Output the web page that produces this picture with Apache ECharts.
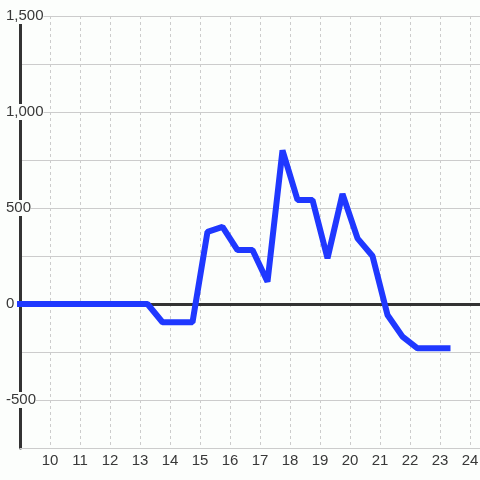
<!DOCTYPE html>
<html>
<head>
<meta charset="utf-8">
<script src="https://cdn.jsdelivr.net/npm/echarts@6/dist/echarts.min.js"></script>
<style>
  html, body { margin: 0; padding: 0; background: #fcfefc; }
  #chart { width: 480px; height: 480px; }
</style>
</head>
<body>
<div id="chart"></div>
<script>
// hours of day (decimal) and values
var hours = [8.9, 13.25, 13.75, 14.75, 15.25, 15.75, 16.25, 16.75, 17.25, 17.75, 18.25, 18.75, 19.25, 19.75, 20.25, 20.75, 21.25, 21.75, 22.25, 23.35];
var values = [0, 0, -95, -95, 376, 402, 281, 281, 116, 800, 542, 542, 238, 573, 342, 250, -57, -170, -231, -231];
var yTicks = [-500, 0, 500, 1000, 1500];

var chart = echarts.init(document.getElementById("chart"));
var labelFont = { fontFamily: "Liberation Sans", fontSize: 15, color: "#383838" };

chart.setOption({
  backgroundColor: "#fcfefc",
  animation: false,
  grid: { left: 20, right: 0, top: 16, bottom: 32, outerBoundsMode: "none" },
  xAxis: {
    type: "value",
    min: 9,
    max: 24.3333,
    interval: 1,
    axisLine: { onZero: false, lineStyle: { color: "#ccc", width: 1 } },
    axisTick: { show: false },
    axisLabel: Object.assign({
      margin: 5,
      showMinLabel: false,
      hideOverlap: false,
      formatter: function (v) { return Number.isInteger(v) && v > 9 ? String(v) : ""; }
    }, labelFont),
    splitLine: { show: true, lineStyle: { color: "#ccc", type: [3, 3] } }
  },
  yAxis: {
    type: "value",
    min: -750,
    max: 1500,
    interval: 250,
    axisLine: { show: true, lineStyle: { color: "#333", width: 3 } },
    axisTick: { show: false },
    axisLabel: Object.assign({
      margin: 14,
      align: "left",
      backgroundColor: "#fcfefc",
      lineHeight: 13,
      padding: [3, 0, 0, 0],
      formatter: function (v) {
        return yTicks.indexOf(v) >= 0 ? v.toLocaleString("en-US") : "";
      }
    }, labelFont),
    splitLine: { show: true, lineStyle: { color: "#ccc", width: 1 } }
  },
  series: [
    {
      type: "line",
      data: hours.map(function (h, i) { return [h, values[i]]; }),
      showSymbol: false,
      clip: false,
      z: 5,
      lineStyle: { color: "#1f38ff", width: 6 },
      markLine: {
        silent: true,
        symbol: "none",
        label: { show: false },
        lineStyle: { color: "#333", width: 3, type: "solid" },
        data: [{ yAxis: 0 }]
      }
    }
  ]
});
</script>
</body>
</html>
